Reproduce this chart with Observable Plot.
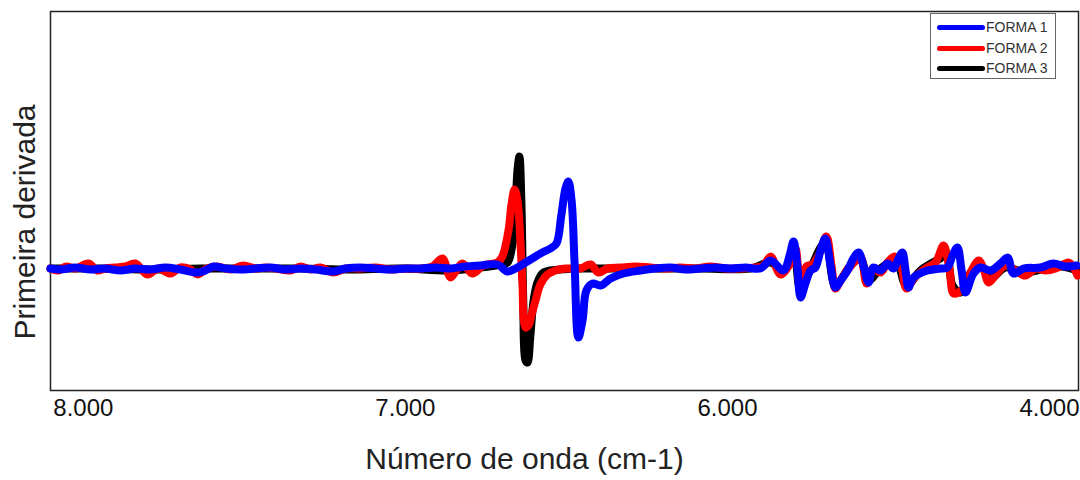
<!DOCTYPE html>
<html>
<head>
<meta charset="utf-8">
<script src="https://cdn.jsdelivr.net/npm/d3@7"></script>
<script src="https://cdn.jsdelivr.net/npm/@observablehq/plot@0.6"></script>
<style>
  html, body { margin: 0; padding: 0; background: #fff; }
  #wrap { position: relative; width: 1080px; height: 480px; font-family: "Liberation Sans", Arial, sans-serif; }
  #legend { position: absolute; left: 930px; top: 13px; width: 126px; height: 66px; border: 1.5px solid #666; background: #fff; box-sizing: border-box; }
  .li { position: absolute; left: 6px; height: 16px; display: flex; align-items: center; font-size: 14px; color: #333; white-space: nowrap; }
  .li span.sw { display: inline-block; width: 48px; height: 5px; border-radius: 3px; margin-right: 1px; }
</style>
</head>
<body>
<div id="wrap"></div>
<script>
// ---- data (wavenumber in cm-1, first derivative in arbitrary units) ----
const seriesNames = ["FORMA 1", "FORMA 2", "FORMA 3"];
const seriesColors = ["#0000ff", "#ff0000", "#000000"];
const tickValues = [8000, 7000, 6000, 5000];
const tickLabels = ["8.000", "7.000", "6.000", "4.000"];
const xDomain = [8102, 4910];
const yDomain = [-0.122, 0.257];

const forma1X = [8102,8071,8025,7978,7932,7885,7839,7792,7745,7699,7646,7621,7596,7559,7512,7466,7419,7373,7326,7279,7224,7186,7140,7093,7047,7000,6953,6907,6860,6814,6767,6714,6683,6658,6627,6596,6575,6550,6531,6516,6503,6494,6484,6475,6463,6450,6438,6419,6394,6363,6323,6270,6224,6177,6130,6084,6037,5991,5944,5898,5866,5826,5807,5795,5783,5773,5758,5742,5727,5711,5696,5680,5665,5649,5627,5609,5593,5578,5562,5547,5525,5503,5484,5469,5457,5447,5438,5422,5379,5339,5317,5301,5286,5273,5261,5236,5214,5183,5152,5130,5112,5081,5028,4988,4950,4916];
const forma1Y = [0,-0.001,0.001,-0.001,0,-0.002,0,-0.001,0.001,-0.001,-0.004,-0.002,0.002,0,-0.001,0,0.001,-0.001,0,-0.001,-0.003,0,0.001,0,-0.001,0,0,0.001,0,0.002,0.003,0.004,-0.003,0,0.006,0.012,0.016,0.020,0.025,0.053,0.080,0.087,0.068,0.008,-0.069,-0.052,-0.022,-0.015,-0.017,-0.010,-0.005,-0.002,0,0.001,-0.001,0,0.001,0,0.001,0,0.008,-0.002,0.013,0.027,0.003,-0.029,-0.015,-0.002,0.001,0.018,0.030,0.003,-0.019,-0.012,-0.002,0.010,0.016,0.003,-0.014,0.001,-0.002,0.005,0,0.010,0.016,-0.002,-0.019,-0.009,-0.002,0,0.001,0.013,0.021,-0.002,-0.024,-0.005,0.001,-0.002,0.005,0.011,-0.005,0,0.001,0.005,0.002,0.003];

const forma2X = [8102,8078,8053,8025,7984,7957,7932,7901,7870,7839,7801,7767,7730,7699,7668,7646,7615,7584,7543,7503,7466,7435,7404,7357,7326,7295,7264,7224,7186,7140,7093,7047,7000,6953,6916,6885,6860,6842,6823,6792,6758,6714,6699,6680,6671,6661,6652,6643,6637,6627,6618,6609,6596,6581,6559,6534,6503,6457,6425,6401,6373,6332,6286,6239,6193,6146,6099,6053,6006,5960,5913,5888,5866,5835,5804,5789,5773,5755,5736,5717,5693,5677,5665,5649,5624,5602,5587,5568,5550,5525,5503,5481,5463,5444,5422,5385,5354,5329,5311,5298,5283,5267,5245,5220,5205,5189,5168,5137,5106,5075,5043,5012,4981,4941,4929,4913];
const forma2Y = [0,-0.002,0.002,0,0.005,-0.002,0,0.001,0.002,0.005,-0.006,0,-0.005,0.001,-0.001,-0.006,0,0.002,-0.001,0.003,0,0.001,0,-0.002,0.002,-0.001,0.001,-0.004,0,0,0.001,-0.001,0,0,0.002,0.010,-0.009,-0.002,0.005,-0.005,0.003,0.006,0.012,0.038,0.063,0.079,0.068,0.028,-0.012,-0.059,-0.057,-0.047,-0.032,-0.016,-0.006,-0.002,0,0,0.004,-0.004,0,0.001,0.002,0.001,0,0.001,0,0.002,0,0,0.001,0.003,0.012,-0.006,0.006,0.020,-0.022,0.002,0.004,0.013,0.032,0.003,-0.020,-0.012,0,0.008,0.012,-0.015,0,-0.004,0.006,0.012,0.006,-0.020,-0.010,0,0.006,0.023,0,-0.025,-0.024,-0.020,-0.004,0.008,0,-0.014,-0.007,0.003,-0.002,-0.007,0,-0.002,0,0.006,0.003,-0.007];

const forma3X = [8102,7947,7792,7637,7481,7326,7171,7016,6860,6767,6705,6683,6671,6661,6652,6646,6640,6634,6627,6621,6612,6602,6590,6575,6550,6519,6457,6394,6332,6239,6084,5929,5866,5826,5795,5773,5742,5696,5665,5618,5587,5562,5525,5478,5444,5401,5339,5320,5301,5276,5245,5214,5183,5137,5075,5012,4966,4913];
const forma3Y = [0,0,-0.001,0,0,0,-0.001,0,-0.002,0.001,0.004,0.006,0.018,0.043,0.098,0.112,0.068,-0.032,-0.092,-0.094,-0.067,-0.032,-0.014,-0.005,-0.002,-0.001,0,0,0,0,0,0,0.006,-0.003,0.018,-0.022,0,0.026,-0.017,0.003,0.010,-0.012,0,0.008,-0.017,-0.002,0.010,0.013,-0.017,-0.024,-0.004,0.003,-0.010,0.001,-0.004,0,0.002,-0.002];

// ---- build tables ----
const toRows = (xs, ys) => xs.map((x, i) => ({x, y: ys[i]}));
const rows = [toRows(forma1X, forma1Y), toRows(forma2X, forma2Y), toRows(forma3X, forma3Y)];
const labelOf = new Map(tickValues.map((v, i) => [v, tickLabels[i]]));
const lineOpts = (i) => ({x: "x", y: "y", stroke: seriesColors[i], strokeWidth: 8, strokeLinejoin: "round", strokeLinecap: "round", curve: "catmull-rom"});

const chart = Plot.plot({
  width: 1080,
  height: 480,
  marginLeft: 50,
  marginRight: 2,
  marginTop: 11,
  marginBottom: 90,
  style: {fontFamily: "'Liberation Sans', Arial, sans-serif", background: "#fff", color: "#000"},
  x: {domain: xDomain, axis: null},
  y: {domain: yDomain, axis: null},
  marks: [
    Plot.frame({stroke: "#222", strokeWidth: 1.5}),
    // draw order: FORMA 3 (black), FORMA 2 (red), FORMA 1 (blue) on top
    Plot.line(rows[2], lineOpts(2)),
    Plot.line(rows[1], lineOpts(1)),
    Plot.line(rows[0], lineOpts(0)),
    Plot.axisX({ticks: tickValues, tickFormat: d => labelOf.get(d), tickSize: 0, tickPadding: 8, fontSize: 24, label: null, fill: "#111"}),
    Plot.text(["Número de onda (cm-1)"], {frameAnchor: "bottom", dx: -40, dy: 78, fontSize: 30, fill: "#222"}),
    Plot.text(["Primeira derivada"], {frameAnchor: "left", textAnchor: "middle", rotate: -90, dx: -25, dy: 21, fontSize: 30, fill: "#222"})
  ]
});

const wrap = document.getElementById("wrap");
wrap.appendChild(chart);

// legend
const legend = document.createElement("div");
legend.id = "legend";
const tops = [5, 26, 46];
seriesNames.forEach((name, i) => {
  const item = document.createElement("div");
  item.className = "li";
  item.style.top = tops[i] + "px";
  const sw = document.createElement("span");
  sw.className = "sw";
  sw.style.background = seriesColors[i];
  item.appendChild(sw);
  item.appendChild(document.createTextNode(name));
  legend.appendChild(item);
});
wrap.appendChild(legend);
</script>
</body>
</html>
